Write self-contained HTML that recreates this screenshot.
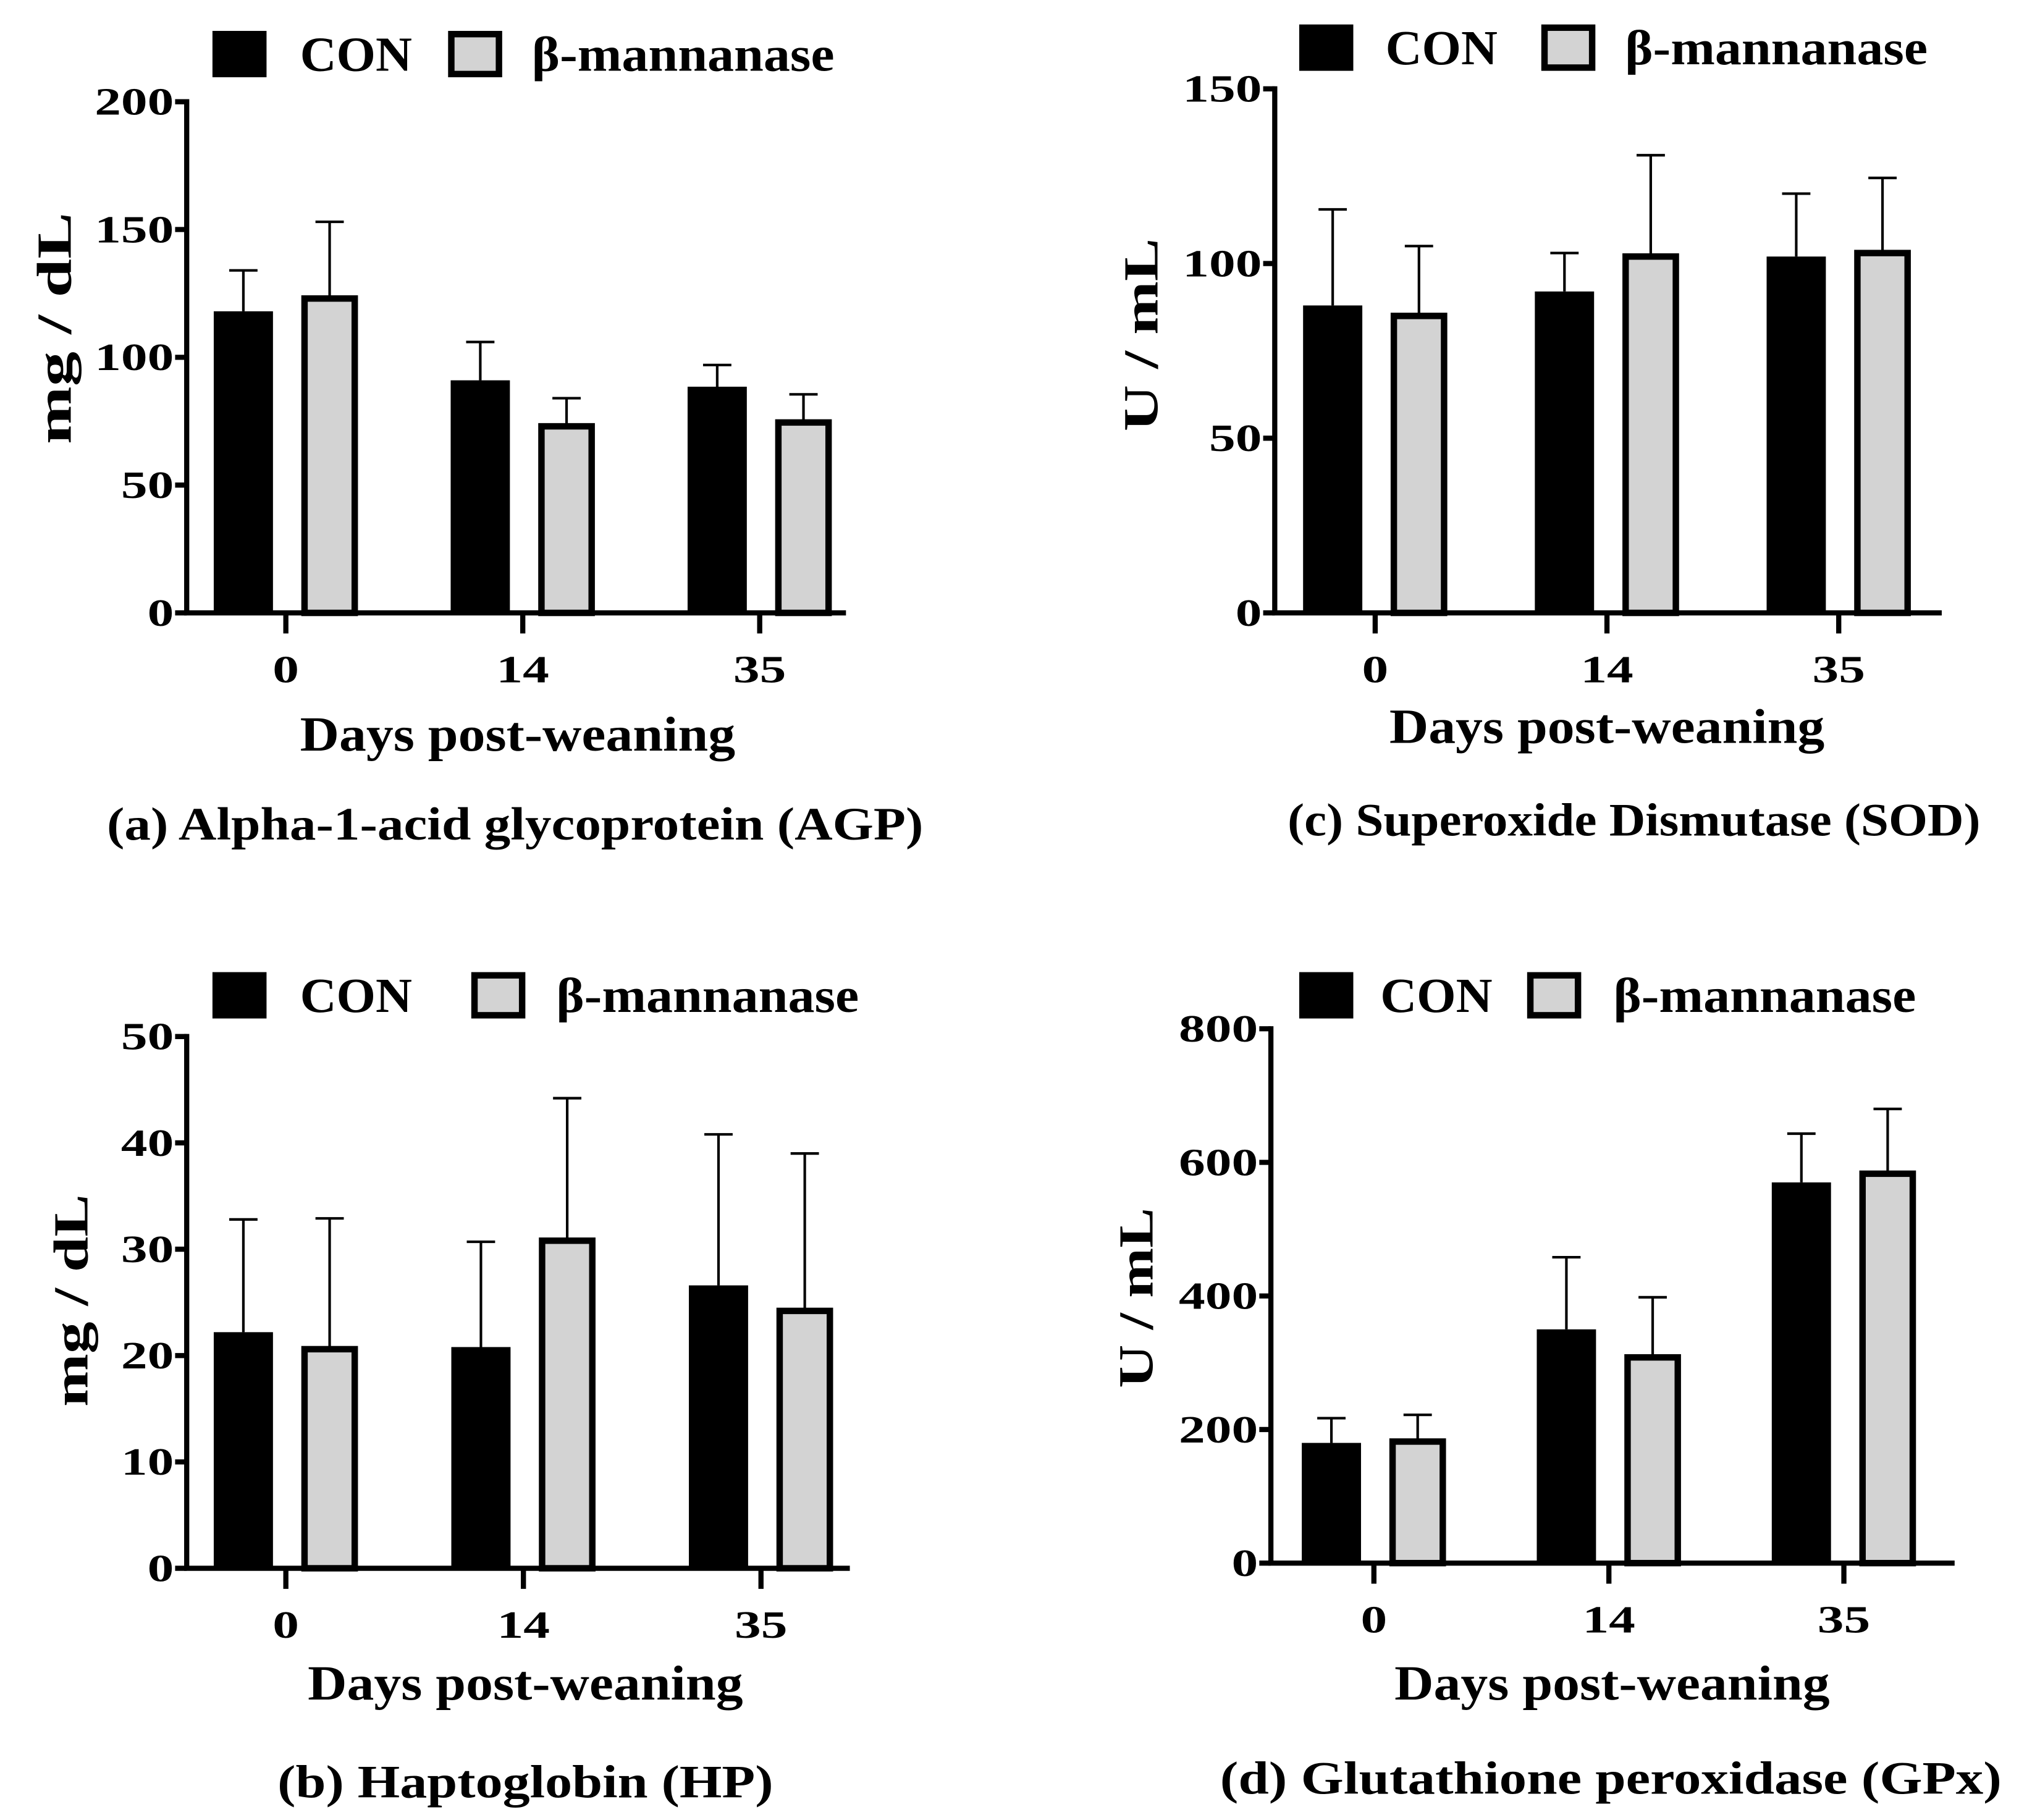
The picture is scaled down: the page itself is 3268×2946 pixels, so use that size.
<!DOCTYPE html>
<html><head><meta charset="utf-8"><style>
html,body{margin:0;padding:0;background:#fff}
svg{display:block}
text{font-family:"Liberation Serif",serif;font-weight:bold;fill:#000}
</style></head><body>
<svg id="fig" width="3268" height="2946" viewBox="0 0 1568 1413.5" xmlns="http://www.w3.org/2000/svg"></svg>
<script>
const categories = ["0","14","35"];
const agpCon = [118, 91, 88.5];
const agpConErr = [134, 106, 97];
const agpMan = [123, 73, 74.5];
const agpManErr = [153, 84, 85.5];
const agpTicks = [0, 50, 100, 150, 200];
const sodCon = [88, 92, 102];
const sodConErr = [115.5, 103, 120];
const sodMan = [85, 102, 103];
const sodManErr = [105, 131, 124.5];
const sodTicks = [0, 50, 100, 150];
const hpCon = [22.2, 20.8, 26.6];
const hpConErr = [32.8, 30.7, 40.8];
const hpMan = [20.6, 30.8, 24.2];
const hpManErr = [32.9, 44.2, 39];
const hpTicks = [0, 10, 20, 30, 40, 50];
const gpxCon = [180, 350, 570];
const gpxConErr = [217, 458, 643];
const gpxMan = [182, 308, 583];
const gpxManErr = [222, 398, 680];
const gpxTicks = [0, 200, 400, 600, 800];

const NS = "http://www.w3.org/2000/svg";
const svg = document.getElementById('fig');
function mk(tag, attrs, parent, txt){
  const e = document.createElementNS(NS, tag);
  for (const k in attrs) e.setAttribute(k, attrs[k]);
  if (txt !== undefined) e.textContent = txt;
  (parent || svg).appendChild(e);
  return e;
}
function panel(p){
  const g = mk('g', {});
  
  
  const ymax = p.ticks[p.ticks.length-1];
  const ys = v => p.y0 + (p.yTop - p.y0) * v / ymax;
  const xs = i => p.xt0 + i * p.step;
  for (let i=0;i<categories.length;i++){
    const cx = xs(i) - 33;
    const b = mk('rect', {x:cx-23, y:ys(p.con[i]), width:46, height:p.y0-ys(p.con[i]), fill:'#000'}, g);
    
    
    const e = mk('path', {d:`M${cx} ${ys(p.con[i])}V${ys(p.conErr[i])}M${cx-11} ${ys(p.conErr[i])}H${cx+11}`, stroke:'#000', 'stroke-width':2, fill:'none'}, g);
    
    
    const mx = xs(i) + 34;
    const e2 = mk('path', {d:`M${mx} ${ys(p.man[i])}V${ys(p.manErr[i])}M${mx-11} ${ys(p.manErr[i])}H${mx+11}`, stroke:'#000', 'stroke-width':2, fill:'none'}, g);
    
    
    const b2 = mk('rect', {x:mx-19.5, y:ys(p.man[i]), width:39, height:p.y0-ys(p.man[i]), fill:'#d3d3d3', stroke:'#000', 'stroke-width':5}, g);
    
    
  }
  const ax = mk('path', {d:`M${p.ax} ${p.yTop-2}V${p.y0}H${p.xEnd}`, stroke:'#000', 'stroke-width':4, fill:'none'}, g);
  
  
  p.ticks.forEach(t=>{
    mk('line', {x1:p.ax-9, x2:p.ax, y1:ys(t), y2:ys(t), stroke:'#000','stroke-width':4}, g);
    const s = String(t);
    const l = mk('text', {x:p.ax-10, y:ys(t)+10, 'text-anchor':'end', 'font-size':30, textLength:20.5*s.length, lengthAdjust:'spacingAndGlyphs'}, g, s);
    
    
  });
  categories.forEach((c,i)=>{
    mk('line', {x1:xs(i), x2:xs(i), y1:p.y0, y2:p.y0+16, stroke:'#000','stroke-width':4}, g);
    const l = mk('text', {x:xs(i), y:p.y0+54, 'text-anchor':'middle', 'font-size':30, textLength:20.5*c.length, lengthAdjust:'spacingAndGlyphs'}, g, c);
    
    
  });
  const yt = mk('text', {x:0, y:0, 'text-anchor':'middle', 'font-size':38, textLength:p.ytl, lengthAdjust:'spacingAndGlyphs', transform:`translate(${p.ytx},${p.yty}) rotate(-90)`}, g, p.ytitle);
  
  
  const xt = mk('text', {x:p.xtc, y:p.xty, 'text-anchor':'middle', 'font-size':38, textLength:338, lengthAdjust:'spacingAndGlyphs'}, g, 'Days post-weaning');
  
  
  const cap = mk('text', {x:p.capx, y:p.capy, 'text-anchor':'middle', 'font-size':36, textLength:p.capl, lengthAdjust:'spacingAndGlyphs'}, g, p.caption);
  
  
  const L = p.leg;
  const lg = mk('g', {}, g);
  
  
  mk('rect', {x:L.b1, y:L.y-18, width:42, height:36, fill:'#000'}, lg);
  mk('text', {x:L.t1, y:L.y+13, 'font-size':38, textLength:87, lengthAdjust:'spacingAndGlyphs'}, lg, 'CON');
  mk('rect', {x:L.b2+2.5, y:L.y-15.5, width:37, height:31, fill:'#d3d3d3', stroke:'#000','stroke-width':5}, lg);
  mk('text', {x:L.t2, y:L.y+13, 'font-size':38, textLength:235, lengthAdjust:'spacingAndGlyphs'}, lg, 'β-mannanase');
}
panel({name:'panel-a-agp', con:agpCon, conErr:agpConErr, man:agpMan, manErr:agpManErr, ticks:agpTicks,
  ax:145, y0:476, yTop:79, xEnd:657, xt0:222, step:184, ytitle:'mg / dL', ytl:180, ytx:55, yty:255,
  xtc:402, xty:583, capx:400, capy:652, capl:634, caption:'(a) Alpha-1-acid glycoprotein (AGP)',
  leg:{y:42, b1:165, t1:233, b2:348, t2:413}});
panel({name:'panel-c-sod', con:sodCon, conErr:sodConErr, man:sodMan, manErr:sodManErr, ticks:sodTicks,
  ax:990, y0:476, yTop:69, xEnd:1508, xt0:1068, step:180, ytitle:'U / mL', ytl:150, ytx:899, yty:260,
  xtc:1248, xty:577, capx:1269, capy:649, capl:538, caption:'(c) Superoxide Dismutase (SOD)',
  leg:{y:37, b1:1009, t1:1076, b2:1197, t2:1262}});
panel({name:'panel-b-hp', con:hpCon, conErr:hpConErr, man:hpMan, manErr:hpManErr, ticks:hpTicks,
  ax:145, y0:1218, yTop:805, xEnd:660, xt0:222, step:184.5, ytitle:'mg / dL', ytl:165, ytx:68, yty:1010,
  xtc:408, xty:1320, capx:408, capy:1396, capl:385, caption:'(b) Haptoglobin (HP)',
  leg:{y:773, b1:165, t1:233, b2:366, t2:432}});
panel({name:'panel-d-gpx', con:gpxCon, conErr:gpxConErr, man:gpxMan, manErr:gpxManErr, ticks:gpxTicks,
  ax:987, y0:1214, yTop:799, xEnd:1518, xt0:1067, step:182.5, ytitle:'U / mL', ytl:140, ytx:895, yty:1008,
  xtc:1252, xty:1320, capx:1251, capy:1393, capl:607, caption:'(d) Glutathione peroxidase (GPx)',
  leg:{y:773, b1:1009, t1:1072, b2:1186, t2:1253}});
</script>
</body></html>
